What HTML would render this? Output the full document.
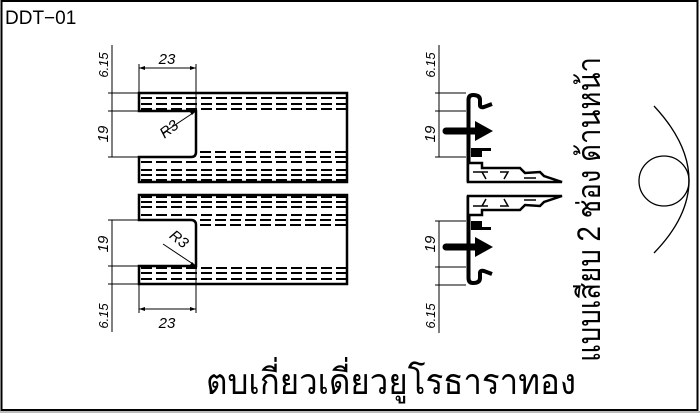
<!DOCTYPE html>
<html><head><meta charset="utf-8"><style>
html,body{margin:0;padding:0;background:#fff;}
svg{display:block;}
text{font-family:"Liberation Sans","Loma","Garuda","Norasi","Noto Sans Thai","DejaVu Sans",sans-serif;}
</style></head><body>
<svg width="700" height="413" viewBox="0 0 700 413" xmlns="http://www.w3.org/2000/svg">
<rect x="0" y="411" width="700" height="2" fill="#bbb"/>
<rect x="1.5" y="1" width="696" height="409" fill="none" stroke="#000" stroke-width="2"/>
<text x="5" y="24" font-size="19">DDT−01</text>

<defs>
<g id="leftHalf">
<path d="M139,93 H347 V182 H139 V157 H191 Q196,157 196,152 V111 H139 Z" fill="none" stroke="#000" stroke-width="2.5"/>
<g stroke="#000" stroke-width="2" stroke-dasharray="11,4">
<line x1="141" y1="98" x2="346" y2="98"/>
<line x1="141" y1="104" x2="346" y2="104"/>
<line x1="141" y1="109" x2="346" y2="109"/>
<line x1="200" y1="152" x2="346" y2="152"/>
<line x1="200" y1="157" x2="346" y2="157"/>
<line x1="141" y1="162" x2="346" y2="162"/>
<line x1="141" y1="170" x2="346" y2="170"/>
<line x1="141" y1="175" x2="346" y2="175"/>
<line x1="141" y1="180" x2="346" y2="180"/>
</g>
<g stroke="#000" stroke-width="1" fill="none">
<line x1="112" y1="45" x2="112" y2="157"/>
<line x1="108" y1="93" x2="139" y2="93"/>
<line x1="108" y1="111" x2="139" y2="111"/>
<line x1="108" y1="157" x2="139" y2="157"/>
<line x1="139" y1="64" x2="139" y2="93"/>
<line x1="196" y1="64" x2="196" y2="111"/>
<line x1="139" y1="68" x2="196" y2="68"/>
<line x1="196" y1="111" x2="163" y2="133"/>
</g>
<path d="M139,68 l6,-2 v4 Z M196,68 l-6,-2 v4 Z M196,111 l-6,1 l2,3 Z"/>
</g>
<g id="profile">
<path d="M468.5,182 V100 Q468.5,95 473,95 Q480,95 480,100 V105 Q480,108 484,107 L492,104" fill="none" stroke="#000" stroke-width="4"/>
<line x1="446" y1="131" x2="478" y2="131" stroke="#000" stroke-width="7" stroke-linecap="round"/>
<path d="M475,121 L493,131 L475,141 Z"/>
<path d="M471,148 H491 V151 H482 V157 H471 Z"/>
<path d="M468,163 H482 V168 H520 L525,173 L540,172 L544,176 L562,182 H468 Z" fill="#fff" stroke="#000" stroke-width="2.5" stroke-linejoin="miter"/>
<path d="M473,172 H488 M482,172 L486,179 M500,172 H508 L504,179 M524,178 H536" fill="none" stroke="#000" stroke-width="1.5"/>
<g stroke="#000" stroke-width="1">
<line x1="439" y1="45" x2="439" y2="157"/>
<line x1="435" y1="93" x2="466" y2="93"/>
<line x1="435" y1="111" x2="466" y2="111"/>
<line x1="435" y1="157" x2="466" y2="157"/>
</g>
</g>
</defs>

<use href="#leftHalf"/>
<use href="#leftHalf" transform="translate(0,377) scale(1,-1)"/>
<use href="#profile"/>
<use href="#profile" transform="translate(0,378) scale(1,-1)"/>

<g font-size="15" font-style="italic" fill="#000">
<text x="167" y="64" text-anchor="middle">23</text>
<text x="167" y="328" text-anchor="middle">23</text>
<text transform="translate(108,65) rotate(-90)" text-anchor="middle" font-size="13">6.15</text>
<text transform="translate(108,134) rotate(-90)" text-anchor="middle">19</text>
<text transform="translate(108,244) rotate(-90)" text-anchor="middle">19</text>
<text transform="translate(108,316) rotate(-90)" text-anchor="middle" font-size="13">6.15</text>
<text transform="translate(435,65) rotate(-90)" text-anchor="middle" font-size="13">6.15</text>
<text transform="translate(435,134) rotate(-90)" text-anchor="middle">19</text>
<text transform="translate(435,244) rotate(-90)" text-anchor="middle">19</text>
<text transform="translate(435,316) rotate(-90)" text-anchor="middle" font-size="13">6.15</text>
<text transform="translate(172,133) rotate(-38)" text-anchor="middle">R3</text>
<text transform="translate(176,243) rotate(38)" text-anchor="middle">R3</text>
</g>

<text transform="translate(600,362) rotate(-90)" font-size="32" textLength="305" lengthAdjust="spacingAndGlyphs">แบบเสียบ 2 ช่อง ด้านหน้า</text>

<circle cx="664" cy="181" r="25" fill="none" stroke="#000" stroke-width="1.3"/>
<path d="M654,106 Q724,181 654,253" fill="none" stroke="#000" stroke-width="1.3"/>

<text x="206" y="394" font-size="36" textLength="370" lengthAdjust="spacingAndGlyphs">ตบเกี่ยวเดี่ยวยูโรธาราทอง</text>
</svg>
</body></html>
